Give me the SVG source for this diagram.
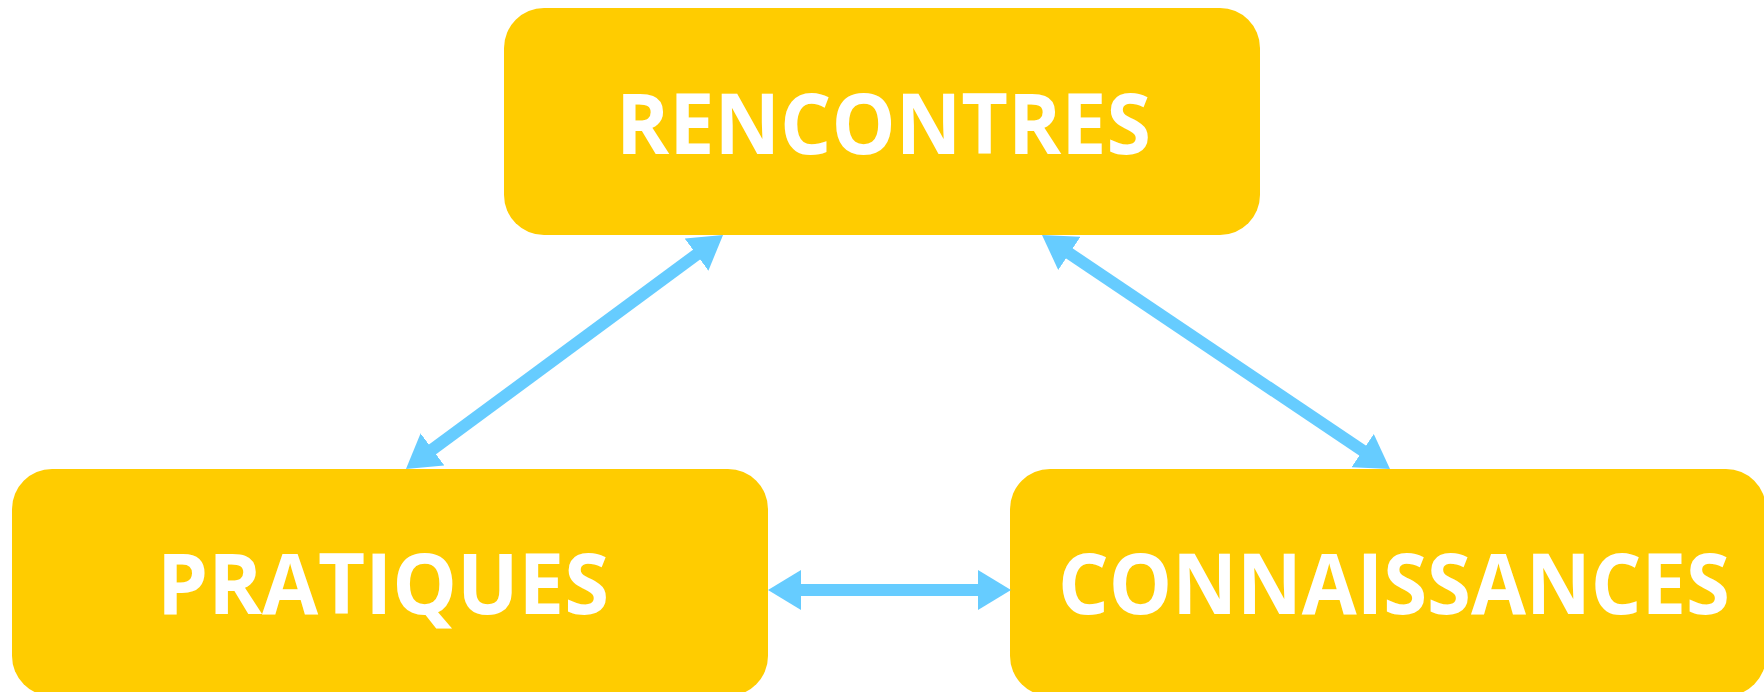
<svg xmlns="http://www.w3.org/2000/svg" width="1764" height="692" viewBox="0 0 1764 692">
  <style>
    .box { fill: #FFCC00; }
    .lbl { fill: #FFFFFF; font-family: "Open Sans", "Noto Sans", "Liberation Sans", sans-serif; font-weight: 700; font-size: 85px; }
    .conn { stroke: #66CCFF; stroke-width: 12; fill: none; }
  </style>
  <defs>
    <marker id="head" markerUnits="userSpaceOnUse" markerWidth="33" markerHeight="40" viewBox="0 0 33 40" refX="3" refY="20" orient="auto-start-reverse">
      <path d="M0,0 L33,20 L0,40 Z" fill="#66CCFF"/>
    </marker>
  </defs>
  <rect width="1764" height="692" fill="#FFFFFF"/>
  <g id="node-rencontres">
    <rect class="box" x="504" y="8" width="756" height="227" rx="40" ry="40"/>
    <text class="lbl" x="616" y="154" textLength="535" lengthAdjust="spacingAndGlyphs">RENCONTRES</text>
  </g>
  <g id="node-pratiques">
    <rect class="box" x="12" y="469" width="756" height="227" rx="40" ry="40"/>
    <text class="lbl" x="157" y="614" textLength="452" lengthAdjust="spacingAndGlyphs">PRATIQUES</text>
  </g>
  <g id="node-connaissances">
    <rect class="box" x="1010" y="469" width="756" height="227" rx="40" ry="40"/>
    <text class="lbl" x="1058" y="614" textLength="672" lengthAdjust="spacingAndGlyphs">CONNAISSANCES</text>
  </g>
  <g id="connectors">
    <line class="conn" x1="698.9" y1="252.8" x2="430.1" y2="451.2" marker-start="url(#head)" marker-end="url(#head)"/>
    <line class="conn" x1="1066.9" y1="251.7" x2="1365.1" y2="452.3" marker-start="url(#head)" marker-end="url(#head)"/>
    <line class="conn" x1="798" y1="590" x2="981" y2="590" marker-start="url(#head)" marker-end="url(#head)"/>
  </g>
</svg>
